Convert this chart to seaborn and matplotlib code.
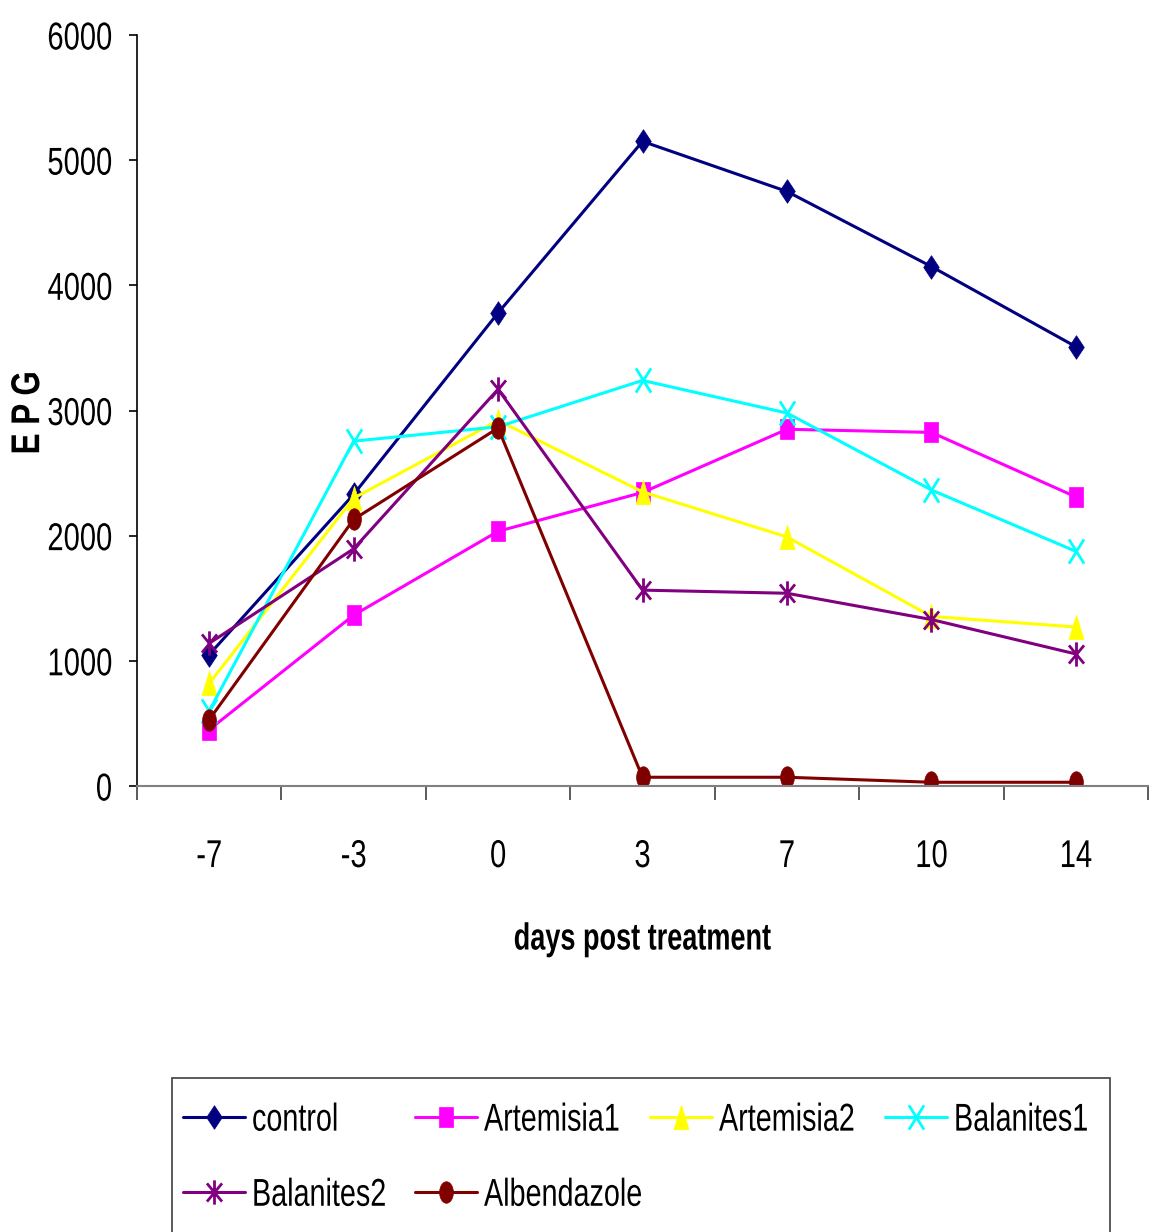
import matplotlib
matplotlib.use("Agg")
import matplotlib.pyplot as plt
from matplotlib.path import Path
from matplotlib.patches import Rectangle
from matplotlib.patheffects import AbstractPathEffect
from matplotlib.transforms import Affine2D
from matplotlib.ticker import FixedLocator
import numpy as np
import pandas as pd
import seaborn as sns

# Days relative to treatment
days = ["-7", "-3", "0", "3", "7", "10", "14"]

# Eggs per gram of faeces for each group
control = [1050, 2330, 3780, 5150, 4750, 4150, 3510]
artemisia1 = [450, 1365, 2035, 2345, 2850, 2825, 2310]
artemisia2 = [820, 2300, 2920, 2350, 1990, 1355, 1270]
balanites1 = [600, 2755, 2870, 3240, 2980, 2365, 1875]
balanites2 = [1140, 1895, 3170, 1565, 1540, 1330, 1055]
albendazole = [530, 2130, 2860, 70, 70, 30, 30]

groups = ["control", "Artemisia1", "Artemisia2", "Balanites1", "Balanites2", "Albendazole"]
series = [control, artemisia1, artemisia2, balanites1, balanites2, albendazole]

colors = ["#000080", "#FF00FF", "#FFFF00", "#00FFFF", "#800080", "#800000"]


class Tall(AbstractPathEffect):
    """Stretch glyphs vertically about mid cap height, giving a narrow-font look."""

    def __init__(self, sy=1.33):
        super().__init__()
        self.sy = sy

    def draw_path(self, renderer, gc, tpath, affine, rgbFace=None):
        mid = 36.0  # half the cap height in text-path units
        stretch = Affine2D().translate(0, -mid).scale(1, self.sy).translate(0, mid)
        renderer.draw_path(gc, tpath, stretch + affine, rgbFace)


def closed(pts):
    return Path(list(pts) + [pts[0]],
                [Path.MOVETO] + [Path.LINETO] * (len(pts) - 1) + [Path.CLOSEPOLY])


# Tall marker shapes
diamond = closed([(0, -1), (0.66, 0), (0, 1), (-0.66, 0)])
square = closed([(-0.68, -1), (0.68, -1), (0.68, 1), (-0.68, 1)])
triangle = closed([(0, 1), (0.62, -1), (-0.62, -1)])
theta = np.linspace(0, 2 * np.pi, 40, endpoint=False)
ellipse = closed(list(zip(0.64 * np.cos(theta), np.sin(theta))))
cross = Path([(-0.62, -1), (0.62, 1), (-0.62, 1), (0.62, -1)],
             [Path.MOVETO, Path.LINETO, Path.MOVETO, Path.LINETO])
star = Path([(0, -1), (0, 1), (-0.62, -0.75), (0.62, 0.75), (-0.62, 0.75), (0.62, -0.75)],
            [Path.MOVETO, Path.LINETO, Path.MOVETO, Path.LINETO, Path.MOVETO, Path.LINETO])

markers = [diamond, square, triangle, cross, star, ellipse]
marker_sizes = [17, 14, 17.5, 17.5, 17.5, 15.5]
edge_widths = [0.5, 0.5, 0.5, 2.0, 2.0, 0.5]

df = pd.DataFrame(
    [(g, d, v) for g, vals in zip(groups, series) for d, v in zip(days, vals)],
    columns=["group", "day", "epg"],
)

sns.set_theme(style="white")
plt.rcParams["font.family"] = ["Liberation Sans", "DejaVu Sans"]
plt.rcParams.update({
    "text.color": "black", "axes.labelcolor": "black",
    "xtick.color": "black", "ytick.color": "black",
    "xtick.labelcolor": "black", "ytick.labelcolor": "black",
})

fig = plt.figure(figsize=(11.6, 12.32), dpi=100)
ax = fig.add_axes([0.1181, 0.362, 0.8716, 0.6096])

sns.pointplot(
    data=df, x="day", y="epg", hue="group", order=days, hue_order=groups,
    palette=colors, markers=markers, linestyles=["-"] * 6,
    errorbar=None, ax=ax, linewidth=2.2, legend=False,
)

lines = list(ax.lines)[:6]
for ln, c, ms, mew in zip(lines, colors, marker_sizes, edge_widths):
    ln.set_markersize(ms)
    ln.set_markeredgewidth(mew)
    ln.set_markeredgecolor(c)
    ln.set_markerfacecolor(c)
    ln.set_linewidth(2.2)

ax.set_xlim(-0.5, len(days) - 0.5)
ax.set_ylim(0, 6000)
ax.set_yticks(np.arange(0, 6001, 1000))

for s in ["top", "right"]:
    ax.spines[s].set_visible(False)
ax.spines["left"].set_color("black")
ax.spines["bottom"].set_color("#808080")
ax.spines["left"].set_linewidth(1.2)
ax.spines["bottom"].set_linewidth(1.5)

ax.tick_params(axis="y", which="major", direction="out", length=6, width=1.2,
               color="black", pad=12, labelsize=21, left=True)
ax.tick_params(axis="x", which="major", length=0, pad=40, labelsize=21)
ax.xaxis.set_minor_locator(FixedLocator(np.arange(-0.5, len(days), 1.0)))
ax.tick_params(axis="x", which="minor", direction="out", length=10, width=1.2,
               color="#404040", bottom=True)

for t in ax.get_yticklabels() + ax.get_xticklabels():
    t.set_path_effects([Tall(1.33)])

ax.set_xlabel("days post treatment", fontsize=19.5, fontweight="bold",
              path_effects=[Tall(1.39)])
ax.xaxis.set_label_coords(0.5, -0.186)
ax.set_ylabel("E P G", fontsize=22.6, fontweight="bold",
              path_effects=[Tall(1.28)])
ax.yaxis.set_label_coords(-0.093, 0.497)

# Legend: framed box with four fixed-width columns
fig.add_artist(Rectangle((172 / 1160, -0.02), (1110 - 172) / 1160, 1 - 1078 / 1232 + 0.02,
                         transform=fig.transFigure, facecolor="white",
                         edgecolor="#404040", linewidth=1.2, zorder=0))
col_x = [183, 415, 650, 885]
columns = [[0, 4], [1, 5], [2], [3]]
for x0, idx in zip(col_x, columns):
    leg = fig.legend(
        [lines[i] for i in idx], [groups[i] for i in idx],
        loc="upper left", bbox_to_anchor=(x0 / 1160, 1 - 1105 / 1232),
        bbox_transform=fig.transFigure, fontsize=20.7, frameon=False,
        handlelength=2.15, handletextpad=0.25, borderpad=0,
        borderaxespad=0, labelspacing=1.64,
    )
    for t in leg.get_texts():
        t.set_path_effects([Tall(1.35)])
        t.set_color("black")

fig.savefig("out.png", dpi=100, facecolor="white")
